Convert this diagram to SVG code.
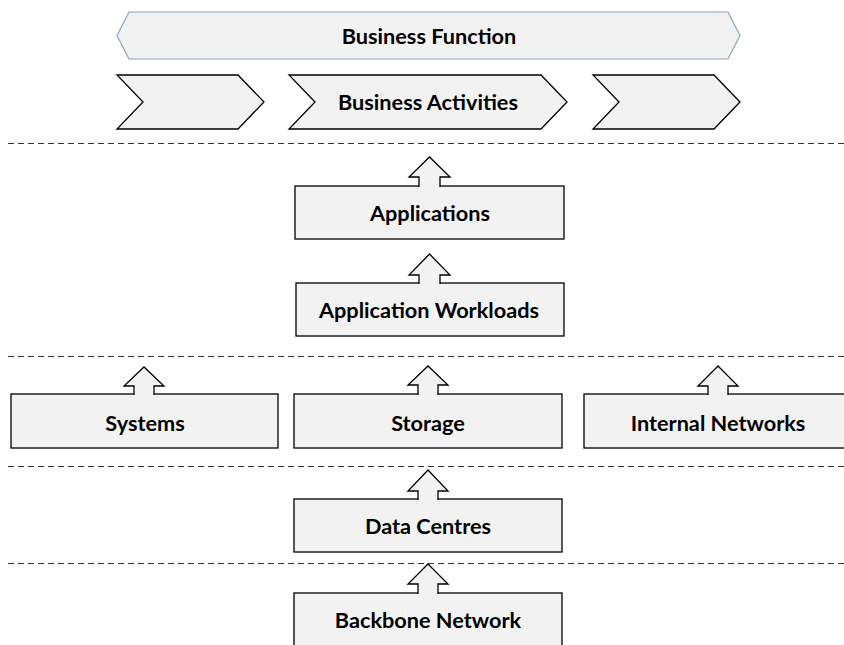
<svg xmlns="http://www.w3.org/2000/svg" width="844" height="645" viewBox="0 0 844 645">
<style>
.box{fill:#F2F2F2;stroke:#000;stroke-width:1.3}
.hex{fill:#F2F2F2;stroke:#8EA2BE;stroke-width:1.2}
.arr{fill:#F2F2F2;stroke:#000;stroke-width:1.3;stroke-linejoin:miter}
.dash{stroke:#333;stroke-width:1.2;stroke-dasharray:6,4;fill:none}
.t{font-family:Lato,"Open Sans","Liberation Sans",sans-serif;font-weight:bold;font-size:21.7px;fill:#000;text-anchor:middle;dominant-baseline:central}
</style>
<rect width="844" height="645" fill="#fff"/>
<g id="separators">
<line class="dash" x1="8" y1="143.5" x2="844" y2="143.5"/>
<line class="dash" x1="8" y1="356.5" x2="844" y2="356.5"/>
<line class="dash" x1="8" y1="466.5" x2="844" y2="466.5"/>
<line class="dash" x1="8" y1="563.5" x2="844" y2="563.5"/>
</g>
<g id="business-function">
<polygon class="hex" points="117,35.5 129,12 728,12 740,35.5 728,59 129,59"/>
<text class="t" x="429" y="36">Business Function</text>
</g>
<g id="activity-1">
<polygon class="box" points="117,75 238,75 264,102 238,129 117,129 143,102"/>
</g>
<g id="business-activities">
<polygon class="box" points="289,75 541,75 567,102 541,129 289,129 315,102"/>
<text class="t" x="428" y="102">Business Activities</text>
</g>
<g id="activity-3">
<polygon class="box" points="593,75 714,75 740,102 714,129 593,129 619,102"/>
</g>
<g id="applications">
<rect class="box" x="295" y="186" width="269" height="53"/>
<text class="t" x="430" y="213">Applications</text>
</g>
<g id="application-workloads">
<rect class="box" x="296" y="283" width="268" height="53"/>
<text class="t" x="429" y="310">Application Workloads</text>
</g>
<g id="systems">
<rect class="box" x="11" y="394" width="267" height="54"/>
<text class="t" x="145" y="423">Systems</text>
</g>
<g id="storage">
<rect class="box" x="294" y="394" width="268" height="54"/>
<text class="t" x="428" y="423">Storage</text>
</g>
<g id="internal-networks">
<rect class="box" x="584" y="394" width="266" height="54"/>
<text class="t" x="718" y="423">Internal Networks</text>
</g>
<g id="data-centres">
<rect class="box" x="294" y="499" width="268" height="53"/>
<text class="t" x="428" y="526">Data Centres</text>
</g>
<g id="backbone-network">
<rect class="box" x="294" y="593" width="268" height="60"/>
<text class="t" x="428" y="620">Backbone Network</text>
</g>
<g id="connectors">
<path class="arr" d="M419,187 V177 H409 L429.5,157 L450,177 H440 V187"/>
<path class="arr" d="M419,284 V275 H409 L429.5,254 L450,275 H440 V284"/>
<path class="arr" d="M134,395 V386 H124 L144,367 L164,386 H154 V395"/>
<path class="arr" d="M418,395 V385 H408 L428,366 L448,385 H438 V395"/>
<path class="arr" d="M708,395 V386 H698 L718,366 L738,386 H728 V395"/>
<path class="arr" d="M418,500 V491 H408 L428,470 L448,491 H438 V500"/>
<path class="arr" d="M418,594 V584 H408 L428,564 L448,584 H438 V594"/>
</g>
</svg>
